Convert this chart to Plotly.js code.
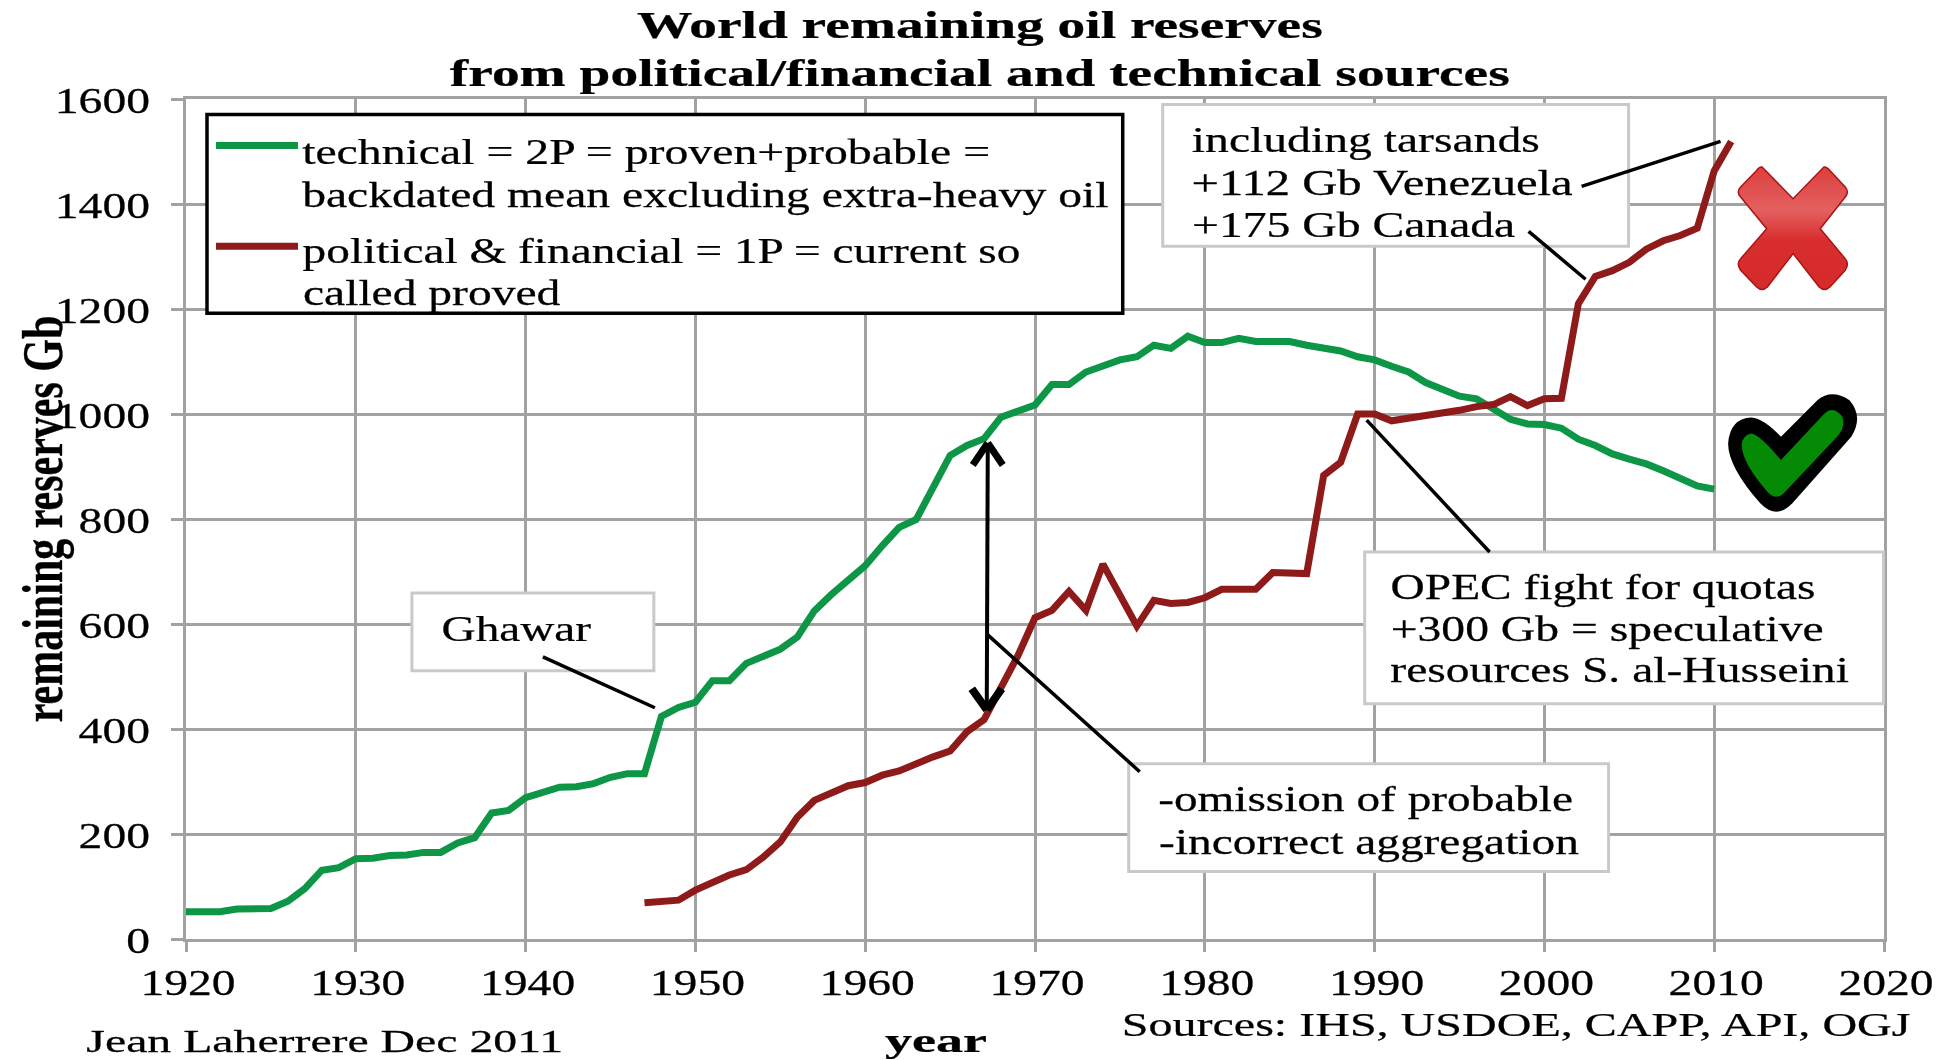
<!DOCTYPE html>
<html>
<head>
<meta charset="utf-8">
<script src="https://cdn.plot.ly/plotly-3.0.1.min.js"></script>
<style>html,body{margin:0;padding:0;background:#fff}#chart{width:1960px;height:1060px;filter:blur(0.7px)}#chart text{stroke:#000;stroke-width:0.25px}</style>
</head>
<body>
<div id="chart"></div>
<script>
const technicalYears = [1920,1921,1922,1923,1924,1925,1926,1927,1928,1929,1930,1931,1932,1933,1934,1935,1936,1937,1938,1939,1940,1941,1942,1943,1944,1945,1946,1947,1948,1949,1950,1951,1952,1953,1954,1955,1956,1957,1958,1959,1960,1961,1962,1963,1964,1965,1966,1967,1968,1969,1970,1971,1972,1973,1974,1975,1976,1977,1978,1979,1980,1981,1982,1983,1984,1985,1986,1987,1988,1989,1990,1991,1992,1993,1994,1995,1996,1997,1998,1999,2000,2001,2002,2003,2004,2005,2006,2007,2008,2009,2010];
const technicalValues = [52,52,52,57,58,58,72,96,131,136,153,154,159,160,165,165,183,193,240,245,269,278,289,290,296,308,315,315,424,441,451,492,492,525,537,552,575,625,656,682,711,749,784,799,860,921,940,953,994,1007,1017,1056,1056,1080,1091,1103,1109,1131,1125,1148,1136,1136,1144,1138,1138,1138,1131,1126,1120,1109,1103,1091,1080,1060,1048,1034,1029,1010,990,981,980,973,952,940,924,914,905,892,876,863,857];
const politicalYears = [1947,1948,1949,1950,1951,1952,1953,1954,1955,1956,1957,1958,1959,1960,1961,1962,1963,1964,1965,1966,1967,1968,1969,1970,1971,1972,1973,1974,1975,1976,1977,1978,1979,1980,1981,1982,1983,1984,1985,1986,1987,1988,1989,1990,1991,1992,1993,1994,1995,1996,1997,1998,1999,2000,2001,2002,2003,2004,2005,2006,2007,2008,2009,2010,2011];
const politicalValues = [69,73,74,93,107,122,132,156,185,232,264,277,292,298,312,320,335,347,358,395,418,478,540,612,626,662,626,714,653,596,645,639,641,650,666,666,666,698,698,696,883,908,1000,1000,987,992,996,999,1007,1014,1018,1033,1016,1029,1030,1210,1262,1273,1289,1314,1330,1340,1354,1463,1519];

const GREEN = '#0c9646', RED = '#8f1a1a', GRID = '#a2a2a2', BOXLINE = '#c9c9c9', SERIF = '"Liberation Serif", serif';
const PL = 186, PR = 1884.5, PT = 98.5, PB = 939.5;
const px = x => (x - PL) / (PR - PL);
const py = y => (PB - y) / (PB - PT);

// [text, centre x, centre y, drawn width, size]
const textLines = [
  ['technical = 2P = proven+probable =', 646, 152, 688, 35],
  ['backdated mean excluding extra-heavy oil', 706, 195, 807, 35],
  ['political & financial = 1P = current so', 662, 251, 718, 35],
  ['called proved', 432, 293, 258, 35],
  ['Ghawar', 517, 630, 150, 35],
  ['including tarsands', 1366, 140, 348, 35],
  ['+112 Gb Venezuela', 1383, 183, 382, 35],
  ['+175 Gb Canada', 1354, 225, 324, 35],
  ['OPEC fight for quotas', 1603, 588, 425, 35],
  ['+300 Gb = speculative', 1607, 630, 433, 35],
  ['resources S. al-Husseini', 1620, 671, 459, 35],
  ['-omission of probable', 1366, 800, 415, 35],
  ['-incorrect aggregation', 1369, 843, 420, 35],
  ['Sources: IHS, USDOE, CAPP, API, OGJ', 1516, 1025, 789, 34],
  ['Jean Laherrere Dec 2011', 325, 1042, 477, 32]
];

const rect = (x0,y0,x1,y1,line,w) => ({type:'rect',xref:'paper',yref:'paper',layer:'above',x0:px(x0),x1:px(x1),y0:py(y0),y1:py(y1),fillcolor:'#fff',line:{color:line,width:w}});
const seg = (x0,y0,x1,y1,color,w) => ({type:'line',xref:'paper',yref:'paper',layer:'above',x0:px(x0),x1:px(x1),y0:py(y0),y1:py(y1),line:{color:color,width:w}});
const dx = x => 1920 + (x - PL) / (PR - PL) * 100;
const dy = y => (PB - y) / (PB - PT) * 1600;
const path = (cmds, fill, lineColor, w) => ({type:'path',xref:'x',yref:'y',layer:'above',
  path: cmds.map(c => c[0] + c.slice(1).map((v,i) => i%2===0 ? dx(v) : dy(v)).join(' ')).join(' ') + ' Z',
  fillcolor:fill,line:{color:lineColor,width:w}});
const zx = X => 1400 + X/2.8, zy = Y => 90 + Y/3;
const zp = cmds => cmds.map(c => [c[0]].concat(c.slice(1).map((v,i)=> i%2===0 ? zx(v) : zy(v))));

const crossOuter = zp([['M',1015,230],['L',1102,325],['L',1188,230],['Q',1195,228,1205,240],['L',1248,290],['Q',1260,305,1248,320],['L',1178,415],['L',1248,505],['Q',1260,520,1248,540],['L',1205,590],['Q',1190,605,1175,590],['L',1102,490],['L',1030,590],['Q',1015,605,1000,590],['L',955,540],['Q',942,520,955,505],['L',1028,415],['L',955,320],['Q',942,305,955,290],['L',1000,240],['Q',1008,228,1015,230]]);
const checkOuter = zp([['M',985,982],['Q',1020,985,1068,1040],['L',1170,930],['Q',1210,895,1260,930],['Q',1300,980,1265,1040],['L',1100,1240],['Q',1055,1290,1010,1240],['Q',920,1130,920,1060],['Q',925,985,985,982]]);
const checkInner = zp([['M',985,1030],['Q',1010,1035,1068,1110],['L',1190,970],['Q',1215,945,1240,980],['Q',1250,1010,1225,1040],['L',1080,1205],['Q',1055,1235,1030,1205],['Q',960,1120,958,1065],['Q',960,1035,985,1030]]);

const shapes = [
  rect(207,114,1123,313,'#000',3.5),
  seg(216,145,298,145,GREEN,7),
  seg(216,246,298,246,RED,7),
  rect(412,593,654,671,BOXLINE,3),
  rect(1163,104,1629,246,BOXLINE,3),
  rect(1365,552,1884,704,BOXLINE,3),
  rect(1129,764,1609,872,BOXLINE,3),
  seg(543,657,655,708,'#000',3.5),
  seg(988,448,987,706,'#000',4),
  seg(988,635,1140,772,'#000',3.5),
  seg(1367,420,1490,552,'#000',3.5),
  seg(1582,186,1721,141,'#000',3.5),
  seg(1529,231,1586,279,'#000',3.5),
  seg(973,465,988,443,'#000',7),
  seg(1003,465,988,443,'#000',7),
  seg(972,689,987,710,'#000',8),
  seg(1002,689,987,710,'#000',8),
  path(crossOuter,'#d62a2a','#a81414',1.5),
  path(checkOuter,'#000','#000',0),
  path(checkInner,'#058a05','#058a05',0)
];

const annotations = textLines.map(t => ({xref:'paper',yref:'paper',x:px(t[1]),y:py(t[2]),xanchor:'center',yanchor:'middle',showarrow:false,text:t[0],font:{family:SERIF,size:t[4],color:'#000'}}));

const traces = [
  {x:technicalYears,y:technicalValues,name:'technical = 2P',mode:'lines',line:{color:GREEN,width:7,shape:'linear'},hoverinfo:'x+y+name'},
  {x:politicalYears,y:politicalValues,name:'political & financial = 1P',mode:'lines',line:{color:RED,width:7,shape:'linear'},hoverinfo:'x+y+name'}
];

const axis = {showgrid:true,gridcolor:GRID,gridwidth:3,showline:true,linecolor:GRID,linewidth:3,mirror:true,ticks:'outside',tickcolor:GRID,tickwidth:3,zeroline:false,tickfont:{family:SERIF,size:35,color:'#000'}};
const layout = {
  width:1960,height:1060,paper_bgcolor:'#fff',plot_bgcolor:'#fff',showlegend:false,
  margin:{l:PL,r:1960-PR,t:PT,b:1060-PB,autoexpand:false},
  title:{text:'World remaining oil reserves<br>from political/financial and technical sources',font:{family:SERIF,size:37,color:'#000',weight:'bold'},x:0.4675,xanchor:'center',xref:'paper',y:0.964,yanchor:'middle'},
  xaxis:Object.assign({},axis,{range:[1920,2020],dtick:10,tick0:1920,ticklen:10,title:{text:'year',standoff:30,font:{family:SERIF,size:34,color:'#000',weight:'bold'}}}),
  yaxis:Object.assign({},axis,{range:[0,1600],dtick:200,tick0:0,ticklen:12,title:{text:'remaining reserves Gb',standoff:6,font:{family:SERIF,size:42,color:'#000',weight:'bold'}}}),
  shapes:shapes,annotations:annotations
};

function stretch(el, k, tx, ty){
  const r = el.getBoundingClientRect();
  const m = el.parentNode.getScreenCTM();
  const cx = r.left + r.width/2 - m.e;
  const old = el.getAttribute('transform') || '';
  el.setAttribute('transform', `translate(${(tx||0)} ${(ty||0)}) translate(${cx} 0) scale(${k} 1) translate(${-cx} 0) ${old}`);
}

Plotly.newPlot('chart', traces, layout, {displayModeBar:false,staticPlot:true}).then(gd => {
  gd.querySelectorAll('.annotation-text').forEach((el,i) => { const w = el.getBoundingClientRect().width; stretch(el, textLines[i][3]/w); });
  const K = 1.36;
  gd.querySelectorAll('.xtick text').forEach(el => stretch(el, K, 2, 1));
  gd.querySelectorAll('.ytick text').forEach(el => {
    const r = el.getBoundingClientRect();
    const right = r.left + r.width/2 + K*r.width/2;
    stretch(el, K, 150-right, 2);
  });
  const title = gd.querySelector('.gtitle');
  if (title) { const w = title.getBoundingClientRect().width; stretch(title, 1060/w); }
  const xt = gd.querySelector('.xtitle');
  if (xt) { const r = xt.getBoundingClientRect(); stretch(xt, 102/r.width, 936-(r.left+r.width/2), 1041-(r.top+r.height/2)); }
  const yt = gd.querySelector('.ytitle');
  if (yt) { const r = yt.getBoundingClientRect(); stretch(yt, 1.35, 43-(r.left+r.width/2), 519-(r.top+r.height/2)); }
  // soft top-to-bottom shading of the cross icon
  const svg = gd.querySelector('.main-svg');
  const NS = 'http://www.w3.org/2000/svg';
  const defs = svg.querySelector('defs') || svg.insertBefore(document.createElementNS(NS,'defs'), svg.firstChild);
  const g = document.createElementNS(NS,'linearGradient');
  g.setAttribute('id','crossShade'); g.setAttribute('x1','0'); g.setAttribute('y1','0'); g.setAttribute('x2','0'); g.setAttribute('y2','1');
  [['0','#dc3e3e'],['0.35','#e46060'],['0.6','#d82e2e'],['1','#d62a2a']].forEach(s => { const st = document.createElementNS(NS,'stop'); st.setAttribute('offset',s[0]); st.setAttribute('stop-color',s[1]); g.appendChild(st); });
  defs.appendChild(g);
  const paths = gd.querySelectorAll('.layer-above .shapelayer path');
  const cross = paths[shapes.length-3];
  if (cross) cross.style.fill = 'url(#crossShade)';
});
</script>
</body>
</html>
